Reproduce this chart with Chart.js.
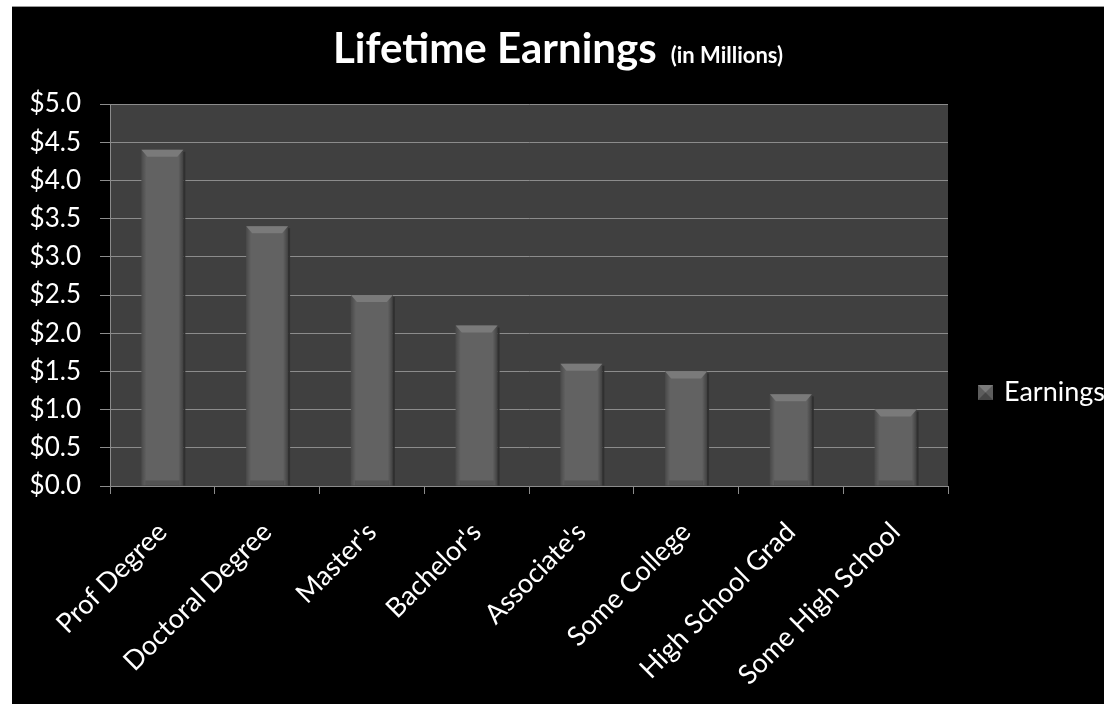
<!DOCTYPE html>
<html>
<head>
<meta charset="utf-8">
<script src="https://cdn.jsdelivr.net/npm/chart.js@4/dist/chart.umd.min.js"></script>
<style>
    body { margin: 0; background: #fff; }
    #wrap {
        position: absolute; left: 12px; top: 6px;
        width: 1092px; height: 698px;
        background: #000; border-top: 1px solid #999;
        box-sizing: border-box;
    }
</style>
</head>
<body>
<div id="wrap"><canvas id="earningsChart"></canvas></div>
<script>
const categories = ['Prof Degree', 'Doctoral Degree', "Master's", "Bachelor's", "Associate's", 'Some College', 'High School Grad', 'Some High School'];
const earnings = [4.4, 3.4, 2.5, 2.1, 1.6, 1.5, 1.2, 1.0];
const seriesName = 'Earnings';
const titleMain = 'Lifetime Earnings';
const titleSub = '(in Millions)';

const FONT = 'Lato, "Open Sans", sans-serif';
const GRID = '#8c8c8c';

// dark grey plot area
const plotBg = {
    id: 'plotBg',
    beforeDraw(chart) {
        const a = chart.chartArea, c = chart.ctx;
        c.save();
        c.fillStyle = '#404040';
        c.fillRect(a.left, a.top, a.right - a.left, a.bottom - a.top);
        c.restore();
    }
};

// bevel look on top of the bars
const bevel = {
    id: 'bevel',
    afterDatasetsDraw(chart) {
        const c = chart.ctx;
        chart.getDatasetMeta(0).data.forEach(bar => {
            const l = bar.x - bar.width / 2, r = bar.x + bar.width / 2;
            const t = bar.y, b = bar.base;
            c.save();
            let g = c.createLinearGradient(l, 0, r, 0);
            g.addColorStop(0, 'rgba(0,0,0,0.25)');
            g.addColorStop(0.12, 'rgba(0,0,0,0)');
            g.addColorStop(0.88, 'rgba(0,0,0,0)');
            g.addColorStop(1, 'rgba(0,0,0,0.35)');
            c.fillStyle = g;
            c.fillRect(l, t, r - l, b - t);
            // top bevel
            c.fillStyle = '#7a7a7a';
            c.beginPath();
            c.moveTo(l, t);
            c.lineTo(r, t);
            c.lineTo(r - 6, t + 7);
            c.lineTo(l + 6, t + 7);
            c.closePath();
            c.fill();
            // bottom bevel
            c.fillStyle = 'rgba(0,0,0,0.15)';
            c.fillRect(l + 4, b - 5, r - l - 8, 5);
            // right shadow
            c.fillStyle = '#303030';
            c.fillRect(r, t + 2, 2, b - t - 2);
            c.restore();
        });
    }
};

// title with a smaller suffix on the same line
const titleLine = {
    id: 'titleLine',
    afterDraw(chart) {
        const c = chart.ctx;
        c.save();
        c.fillStyle = '#fff';
        c.textBaseline = 'alphabetic';
        c.font = 'bold 42px ' + FONT;
        const w1 = c.measureText(titleMain).width;
        c.font = 'bold 22px ' + FONT;
        const w2 = c.measureText(titleSub).width;
        const gap = 14;
        let x = chart.width / 2 - (w1 + gap + w2) / 2;
        c.font = 'bold 42px ' + FONT;
        c.fillText(titleMain, x, 56);
        c.font = 'bold 22px ' + FONT;
        c.fillText(titleSub, x + w1 + gap, 56);
        c.restore();
    }
};

// legend at the right, like the original
const sideLegend = {
    id: 'sideLegend',
    afterDraw(chart) {
        const c = chart.ctx;
        const ds = chart.data.datasets[0];
        const x = 966, y = 378, s = 15;
        c.save();
        c.fillStyle = '#5d5d5d';
        c.fillRect(x, y, s, s);
        c.fillStyle = '#7a7a7a';
        c.beginPath();
        c.moveTo(x, y); c.lineTo(x + s, y); c.lineTo(x + s / 2, y + s / 2); c.closePath();
        c.fill();
        c.fillStyle = '#454545';
        c.beginPath();
        c.moveTo(x, y + s); c.lineTo(x + s, y + s); c.lineTo(x + s / 2, y + s / 2); c.closePath();
        c.fill();
        c.fillStyle = '#fff';
        c.font = '27px ' + FONT;
        c.textBaseline = 'middle';
        c.fillText(ds.label, x + 26, y + s / 2);
        c.restore();
    }
};

new Chart(document.getElementById('earningsChart'), {
    type: 'bar',
    data: {
        labels: categories,
        datasets: [{
            label: seriesName,
            data: earnings,
            backgroundColor: '#626262',
            borderWidth: 0,
            barPercentage: 0.4,
            categoryPercentage: 1.0
        }]
    },
    options: {
        responsive: true,
        maintainAspectRatio: false,
        animation: false,
        layout: { padding: { top: 97, right: 156, left: 0, bottom: 0 } },
        plugins: {
            legend: { display: false },
            title: { display: false },
            tooltip: { enabled: false }
        },
        scales: {
            x: {
                afterFit: s => { s.height = 218; },
                grid: { offset: true, drawOnChartArea: false, color: GRID, tickLength: 8 },
                border: { color: GRID },
                ticks: {
                    color: '#fff',
                    font: { family: FONT, size: 27 },
                    minRotation: 45,
                    maxRotation: 45,
                    padding: 22
                }
            },
            y: {
                min: 0,
                max: 5,
                afterFit: s => { s.width = 98; },
                grid: { color: GRID, tickLength: 10 },
                border: { color: GRID },
                ticks: {
                    stepSize: 0.5,
                    color: '#fff',
                    font: { family: FONT, size: 26 },
                    padding: 19,
                    callback: v => '$' + v.toFixed(1)
                }
            }
        }
    },
    plugins: [plotBg, bevel, titleLine, sideLegend]
});
</script>
</body>
</html>
